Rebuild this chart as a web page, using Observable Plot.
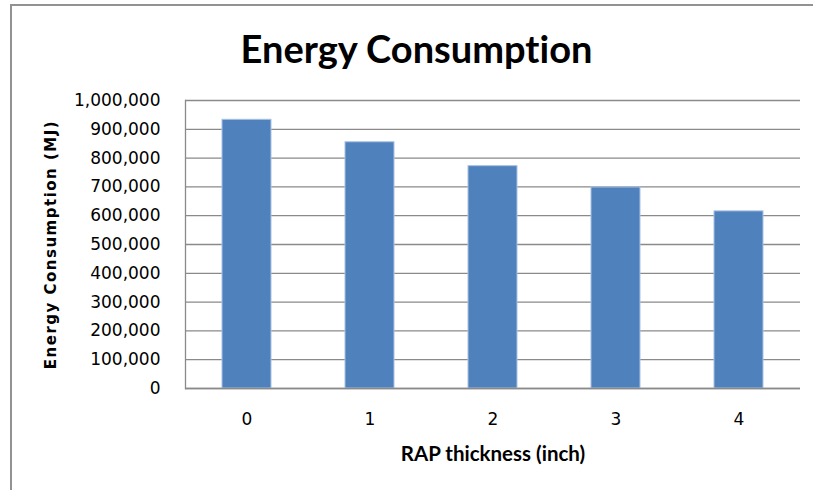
<!DOCTYPE html>
<html>
<head>
<meta charset="utf-8">
<script src="https://cdn.jsdelivr.net/npm/d3@7"></script>
<script src="https://cdn.jsdelivr.net/npm/@observablehq/plot@0.6"></script>
<style>
  html, body { margin: 0; padding: 0; background: #fff; }
  #wrap { position: relative; width: 813px; height: 490px; overflow: hidden; background: #fff; }
  #border { position: absolute; left: 10px; top: 4px; width: 900px; height: 600px;
            border-left: 2px solid #929292; border-top: 2px solid #929292; }
  #title { position: absolute; left: 0; width: 833px; top: 29px; text-align: center;
           font-family: Lato, "Open Sans", sans-serif; font-weight: bold; font-size: 38px;
           line-height: 1; color: #000; z-index: 2; font-variant-ligatures: none; }
  #chart { position: absolute; left: 0; top: 0; z-index: 1; }
  #chart svg text { font-variant-ligatures: none; }
</style>
</head>
<body>
<div id="wrap">
  <div id="border"></div>
  <div id="title"></div>
  <div id="chart"></div>
</div>
<script>
// ---- data ----
const chartTitle = "Energy Consumption";
const xLabel = "RAP thickness (inch)";
const yLabel = "Energy Consumption (MJ)";
const thickness = ["0", "1", "2", "3", "4"];
const energy = [933000, 855000, 772000, 698000, 615000];
const yTicks = [0, 100000, 200000, 300000, 400000, 500000, 600000, 700000, 800000, 900000, 1000000];

const data = thickness.map((t, i) => ({t, v: energy[i]}));

document.getElementById("title").textContent = chartTitle;

const plot = Plot.plot({
  width: 813,
  height: 490,
  marginLeft: 185,
  marginRight: 13,
  marginTop: 100,
  marginBottom: 102,
  style: {background: "transparent", color: "#000"},
  x: {type: "band", domain: thickness, paddingInner: 0.6, paddingOuter: 0.3, label: null},
  y: {domain: [0, 1000000], label: null},
  marks: [
    Plot.gridY(yTicks, {stroke: "#8a8a8a", strokeOpacity: 1, strokeWidth: 1.3}),
    Plot.barY(data, {x: "t", y: "v", fill: "#4f81bd", stroke: "#a9c2e2", strokeWidth: 1}),
    Plot.frame({anchor: "left", stroke: "#8a8a8a", strokeWidth: 1.3}),
    Plot.ruleY([0], {stroke: "#8a8a8a", strokeWidth: 1.3}),
    Plot.axisY(yTicks, {tickSize: 0, tickPadding: 25, tickFormat: d3.format(","),
      fontSize: 17, fontFamily: "DejaVu Sans", label: null}),
    Plot.axisX({tickSize: 0, tickPadding: 24, fontSize: 17, fontFamily: "DejaVu Sans", label: null}),
    Plot.text([xLabel], {frameAnchor: "bottom", text: d => d, dy: 66, lineAnchor: "middle", textAnchor: "middle",
      fontSize: 20.5, fontWeight: "bold", fontFamily: "Lato", fill: "#000"}),
    Plot.text([yLabel], {frameAnchor: "left", text: d => d, dx: -134, rotate: -90, lineAnchor: "middle", textAnchor: "middle",
      fontSize: 15, fontWeight: "bold", fontFamily: "DejaVu Sans", fill: "#000"})
  ]
});
d3.select(plot).selectAll("text")
  .filter(function() { return this.textContent === yLabel; })
  .style("letter-spacing", "1.5px");
document.getElementById("chart").appendChild(plot);
</script>
</body>
</html>
